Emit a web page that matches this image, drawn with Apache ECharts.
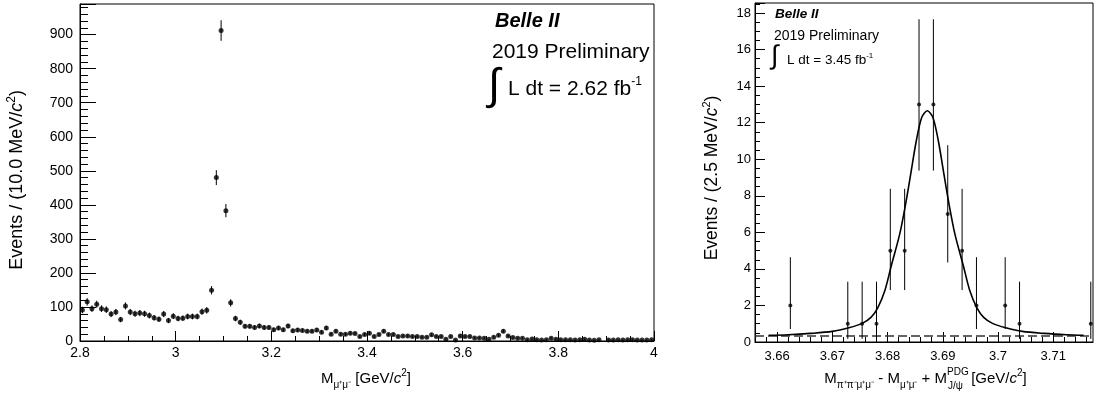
<!DOCTYPE html>
<html>
<head>
<meta charset="utf-8">
<script src="https://cdn.jsdelivr.net/npm/echarts@6/dist/echarts.min.js"></script>
<style>
html,body{margin:0;padding:0;background:#fff;}
#c{width:1095px;height:394px;}
</style>
</head>
<body>
<div id="c"></div>
<script>
// ---------- Left plot: M(mu+mu-) spectrum, 10 MeV bins from 2.8 to 4.0 GeV ----------
const leftBinLow = 2.8;
const leftBinWidth = 0.01;
const leftCounts = [
  91,115,95,108,95,92,79,85,63,103,
  85,80,82,80,75,68,64,79,60,73,
  66,67,72,72,72,86,90,149,480,912,
  383,112,66,55,43,43,40,44,40,40,
  33,38,33,44,30,32,31,29,29,32,
  26,38,20,29,20,20,23,22,13,19,
  23,13,19,29,19,19,13,15,15,13,
  13,11,11,18,13,13,5,13,3,15,
  13,13,9,9,8,5,11,17,29,15,
  10,8,8,4,6,4,3,4,8,5,
  4,4,4,3,4,5,3,2,4,null,
  3,3,4,3,4,4,3,3,3,4
];
const leftXTicks = [2.8,3.0,3.2,3.4,3.6,3.8,4.0];
const leftYTicks = [0,100,200,300,400,500,600,700,800,900];

// ---------- Right plot: M(pi pi mu mu) - M(mu mu) + M(J/psi) ----------
const rightX   = [3.6624,3.6728,3.6754,3.6780,3.6805,3.6831,3.6857,3.6883,3.6909,3.6935,3.6961,3.7013,3.7039,3.7168];
const rightY   = [2,1,1,1,5,5,13,13,7,5,2,2,1,1];
const rightLo  = [0.71,0.17,0.17,0.17,2.84,2.84,9.38,9.38,4.35,2.84,0.71,0.71,0.17,0.17];
const rightHi  = [4.64,3.30,3.30,3.30,8.38,8.38,17.66,17.66,10.77,8.38,4.64,4.64,3.30,3.30];
const fitX = [3.6585,3.6620,3.6660,3.6700,3.6730,3.6754,3.6770,3.6782,3.6795,3.6807,3.6822,3.6833,3.6842,3.6852,3.6862,3.6872,3.6882,3.6892,3.6902,3.6911,3.6922,3.6937,3.6949,3.6962,3.6974,3.6990,3.7014,3.7044,3.7084,3.7124,3.7155];
const fitY = [0.37,0.40,0.47,0.58,0.78,1.02,1.35,1.85,2.8,4.2,5.9,7.6,9.2,11.0,12.3,12.65,12.3,11.0,9.2,7.6,5.9,4.2,2.8,1.85,1.35,1.02,0.78,0.58,0.47,0.40,0.37];
const bkgLevel = 0.33;
const rightXTicks = [3.66,3.67,3.68,3.69,3.70,3.71];
const rightXMinor = [3.656,3.658,3.660,3.662,3.664,3.666,3.668,3.670,3.672,3.674,3.676,3.678,3.680,3.682,3.684,3.686,3.688,3.690,3.692,3.694,3.696,3.698,3.700,3.702,3.704,3.706,3.708,3.710,3.712,3.714,3.716];

// ---------- build ----------
const FONT = '"Liberation Sans", Arial, Helvetica, sans-serif';
const leftPts = [];
const leftErr = [];
leftCounts.forEach((v, i) => {
  if (v === null) return;
  const x = leftBinLow + leftBinWidth * (i + 0.5);
  leftPts.push([x, v]);
  const e = Math.sqrt(v);
  leftErr.push([x, v - e, v + e]);
});
const rightPts = rightX.map((x, i) => [x, rightY[i]]);
const rightErr = rightX.map((x, i) => [x, rightLo[i], rightHi[i]]);
const fitPts = fitX.map((x, i) => [x, fitY[i]]);

function errRender(params, api) {
  const x = api.value(0);
  const p1 = api.coord([x, api.value(1)]);
  const p2 = api.coord([x, api.value(2)]);
  return {
    type: 'line',
    shape: {x1: p1[0], y1: p1[1], x2: p2[0], y2: p2[1]},
    style: {stroke: '#000', lineWidth: 1}
  };
}

const axLine = {show: true, lineStyle: {color: '#000', width: 1}};
function txt(x, y, text, font, extra) {
  return {type: 'text', x: x, y: y, style: Object.assign({
    text: text, font: font, fill: '#000', align: 'left', verticalAlign: 'middle',
    textAlign: 'left', textVerticalAlign: 'middle'}, extra || {})};
}

const option = {
  animation: false,
  backgroundColor: '#fff',
  textStyle: {fontFamily: FONT},
  grid: [
    {left: 80, right: 441, top: 4, bottom: 53, show: true, borderColor: '#000', borderWidth: 1, backgroundColor: 'transparent'},
    {left: 755, right: 2, top: 3, bottom: 52, show: true, borderColor: '#000', borderWidth: 1, backgroundColor: 'transparent'}
  ],
  xAxis: [
    {
      type: 'value', gridIndex: 0, position: 'bottom', min: 2.8, max: 4.0, interval: 0.2,
      axisLine: axLine,
      axisTick: {show: true, inside: true, length: 10, lineStyle: {color: '#000'}},
      minorTick: {show: true, splitNumber: 4, length: 5, lineStyle: {color: '#000'}},
      splitLine: {show: false}, minorSplitLine: {show: false},
      axisLabel: {color: '#000', fontSize: 14, fontFamily: FONT, margin: 5,
        customValues: leftXTicks,
        formatter: v => String(+v.toFixed(2))}
    },
    {
      type: 'value', gridIndex: 1, position: 'bottom', min: 3.656, max: 3.7172,
      axisLine: axLine,
      axisTick: {show: true, inside: true, length: 10, lineStyle: {color: '#000'}, customValues: rightXTicks},
      splitLine: {show: false},
      axisLabel: {color: '#000', fontSize: 13, fontFamily: FONT, margin: 8, customValues: rightXTicks,
        formatter: v => String(+v.toFixed(3))}
    },
    {
      type: 'value', gridIndex: 1, position: 'bottom', min: 3.656, max: 3.7172,
      axisLine: {show: false},
      axisTick: {show: true, inside: true, length: 5, lineStyle: {color: '#000'}, customValues: rightXMinor},
      splitLine: {show: false},
      axisLabel: {show: false}
    }
  ],
  yAxis: [
    {
      type: 'value', gridIndex: 0, min: 0, max: 990, interval: 100,
      axisLine: axLine,
      axisTick: {show: true, inside: true, length: 16, lineStyle: {color: '#000'}},
      minorTick: {show: true, splitNumber: 5, length: 8, lineStyle: {color: '#000'}},
      splitLine: {show: false}, minorSplitLine: {show: false},
      axisLabel: {color: '#000', fontSize: 14, fontFamily: FONT, margin: 7, customValues: leftYTicks}
    },
    {
      type: 'value', gridIndex: 1, min: 0, max: 18.55, interval: 2,
      axisLine: axLine,
      axisTick: {show: true, inside: true, length: 10, lineStyle: {color: '#000'}},
      minorTick: {show: true, splitNumber: 4, length: 5, lineStyle: {color: '#000'}},
      splitLine: {show: false}, minorSplitLine: {show: false},
      axisLabel: {color: '#000', fontSize: 13, fontFamily: FONT, margin: 4, showMaxLabel: false}
    }
  ],
  series: [
    {type: 'custom', xAxisIndex: 0, yAxisIndex: 0, renderItem: errRender, data: leftErr, z: 3},
    {type: 'scatter', xAxisIndex: 0, yAxisIndex: 0, data: leftPts, symbol: 'circle', symbolSize: 5,
      itemStyle: {color: '#000'}, z: 4},
    {type: 'line', xAxisIndex: 1, yAxisIndex: 1, data: [[3.656, bkgLevel], [3.7172, bkgLevel]],
      symbol: 'none', lineStyle: {color: '#333', width: 1.5, type: [9, 4]}, z: 2},
    {type: 'line', xAxisIndex: 1, yAxisIndex: 1, data: fitPts, smooth: 0.3, symbol: 'none',
      lineStyle: {color: '#000', width: 1.6}, z: 2},
    {type: 'custom', xAxisIndex: 1, yAxisIndex: 1, renderItem: errRender, data: rightErr, z: 3},
    {type: 'scatter', xAxisIndex: 1, yAxisIndex: 1, data: rightPts, symbol: 'circle', symbolSize: 4,
      itemStyle: {color: '#000'}, z: 4}
  ],
  graphic: [
    // left plot labels
    txt(495, 21, 'Belle II', 'italic bold 20px ' + FONT),
    txt(492, 52, '2019 Preliminary', '21px ' + FONT),
    txt(488, 87, '\u222B', '44px ' + FONT),
    txt(508, 89, 'L dt = 2.62 fb{s|-1}', '21px ' + FONT, {lineHeight: 27,
      rich: {s: {fontSize: 12, fontFamily: FONT, verticalAlign: 'top', lineHeight: 27}}}),
    // right plot labels
    txt(775, 14, 'Belle II', 'italic bold 13.5px ' + FONT),
    txt(774, 36, '2019 Preliminary', '14px ' + FONT),
    txt(771, 57, '\u222B', '27px ' + FONT),
    txt(787, 60, 'L dt = 3.45 fb{s|-1}', '13.5px ' + FONT, {lineHeight: 17,
      rich: {s: {fontSize: 8, fontFamily: FONT, verticalAlign: 'top', lineHeight: 17}}}),
    // axis titles
    Object.assign(txt(17, 180, 'Events / (10.0 MeV/{i|c}{s|2})', '18px ' + FONT, {lineHeight: 23,
      rich: {i: {fontStyle: 'italic', fontSize: 18, fontFamily: FONT, lineHeight: 23}, s: {fontSize: 12, fontFamily: FONT, verticalAlign: 'top', lineHeight: 23}},
      align: 'center', textAlign: 'center'}), {rotation: Math.PI / 2}),
    txt(366, 379, 'M{b|\u03BC\u207A\u03BC\u207B} [GeV/{i|c}{s|2}]', '15px ' + FONT, {lineHeight: 22,
      rich: {i: {fontStyle: 'italic', fontSize: 15, fontFamily: FONT, lineHeight: 22}, s: {fontSize: 10, fontFamily: FONT, verticalAlign: 'top', lineHeight: 22}, b: {fontSize: 10, fontFamily: FONT, verticalAlign: 'bottom', lineHeight: 22}},
      align: 'center', textAlign: 'center'}),
    Object.assign(txt(712, 178, 'Events / (2.5 MeV/{i|c}{s|2})', '17.5px ' + FONT, {lineHeight: 22,
      rich: {i: {fontStyle: 'italic', fontSize: 17.5, fontFamily: FONT, lineHeight: 22}, s: {fontSize: 11, fontFamily: FONT, verticalAlign: 'top', lineHeight: 22}},
      align: 'center', textAlign: 'center'}), {rotation: Math.PI / 2}),
    txt(947, 379, 'M{b|\u03C0\u207A\u03C0\u207B\u03BC\u207A\u03BC\u207B} - M{b|\u03BC\u207A\u03BC\u207B} + M', '15px ' + FONT, {lineHeight: 22,
      rich: {b: {fontSize: 10, fontFamily: FONT, verticalAlign: 'bottom', lineHeight: 22}},
      align: 'right', textAlign: 'right'}),
    txt(947, 372, 'PDG', '10px ' + FONT),
    txt(948, 386, 'J/\u03C8', '10px ' + FONT),
    txt(967, 379, ' [GeV/{i|c}{s|2}]', '15px ' + FONT, {lineHeight: 22,
      rich: {i: {fontStyle: 'italic', fontSize: 15, fontFamily: FONT, lineHeight: 22}, s: {fontSize: 10, fontFamily: FONT, verticalAlign: 'top', lineHeight: 22}}})
  ]
};

const chart = echarts.init(document.getElementById('c'), null, {renderer: 'canvas'});
chart.setOption(option);
</script>
</body>
</html>
